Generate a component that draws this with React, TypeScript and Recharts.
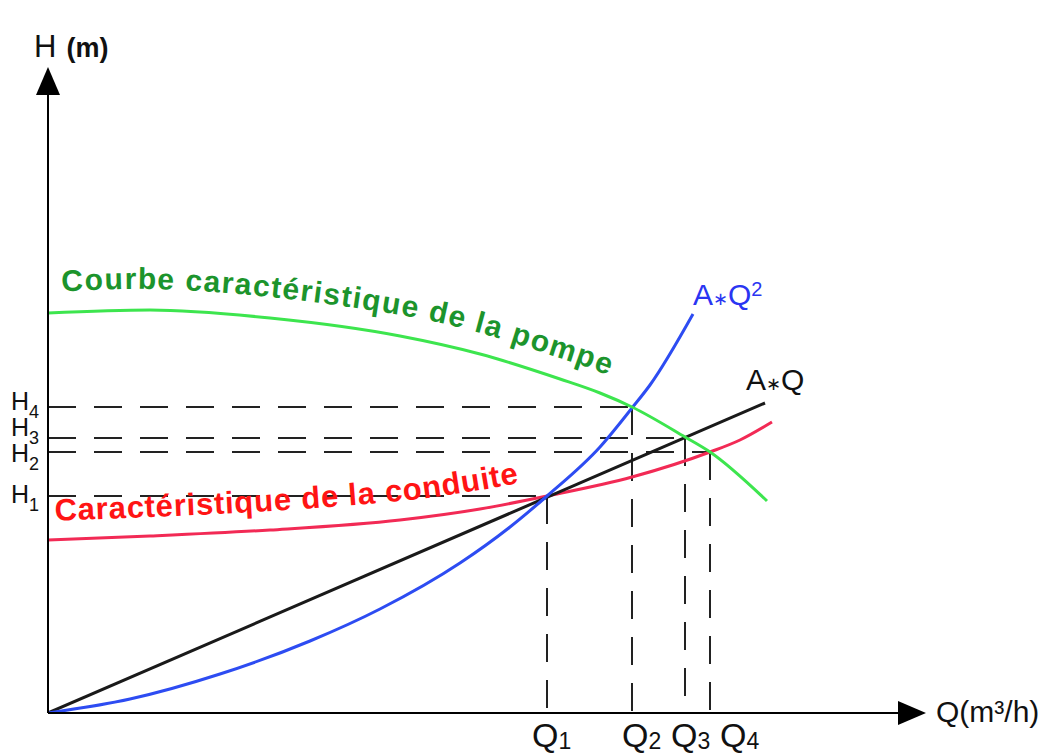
import React from 'react';
import { LineChart, Line, XAxis, YAxis, ReferenceLine, ReferenceDot } from 'recharts';

// Pump curve (Q, H)
const pumpQ = [0, 10.2, 22.2, 35.2, 43.2, 51.2, 55.2, 58.4, 63.7, 66.2, 71.9];
const pumpH = [40.0, 40.3, 39.5, 37.7, 35.9, 33.4, 32.0, 30.6, 27.6, 26.1, 21.2];

// Pipe characteristic
const pipeQ = [0, 10.2, 22.2, 35.2, 43.2, 49.9, 58.4, 66.2, 69.2, 72.4];
const pipeH = [17.3, 17.7, 18.3, 19.3, 20.4, 21.7, 23.6, 26.1, 27.3, 29.1];

// A*Q² curve
const quadQ = [0, 8.2, 17.2, 26.2, 33.2, 41.2, 46.2, 49.9, 55.2, 58.4, 60.2, 64.5];
const quadH = [0, 1.4, 3.9, 7.2, 10.4, 15.0, 18.6, 21.7, 26.6, 30.5, 32.8, 39.9];

// A*Q line
const linQ = [0, 71.7];
const linH = [0, 31.0];

// operating points
const crossQ = [49.9, 58.4, 63.7, 66.2];
const crossH = [21.7, 30.6, 27.5, 26.1];

const qTicks = [49.9, 58.4, 63.7, 66.2];
const qTickLabels = ['1', '2', '3', '4'];
const hTicks = [21.7, 26.1, 27.5, 30.6];
const hTickLabels = ['1', '2', '3', '4'];

const W = 1054;
const HGT = 753;
const LEFT = 48;
const TOP = 95;
const RIGHT = 898;
const BOTTOM = 713;
const Q_MAX = 85;
const H_MAX = 61.8;
const FONT = '"Liberation Sans", Arial, Helvetica, sans-serif';

const zip = (qs: number[], hs: number[]) => qs.map((q, i) => ({ q, h: hs[i] }));
const pump = zip(pumpQ, pumpH);
const pipe = zip(pipeQ, pipeH);
const quad = zip(quadQ, quadH);
const lin = zip(linQ, linH);

// label placement tweaks
const qLabelShift = [-2, 3, -1, 23];
const hLabelDy = [7, 10, -2, 3];

const px = (q: number) => LEFT + (q / Q_MAX) * (RIGHT - LEFT);
const py = (h: number) => BOTTOM - (h / H_MAX) * (BOTTOM - TOP);

function smoothPath(pts: number[][]) {
  let d = `M${pts[0][0]},${pts[0][1]}`;
  for (let i = 0; i < pts.length - 1; i++) {
    const p0 = pts[i - 1] || pts[i];
    const p1 = pts[i];
    const p2 = pts[i + 1];
    const p3 = pts[i + 2] || p2;
    const c1 = [p1[0] + (p2[0] - p0[0]) / 6, p1[1] + (p2[1] - p0[1]) / 6];
    const c2 = [p2[0] - (p3[0] - p1[0]) / 6, p2[1] - (p3[1] - p1[1]) / 6];
    d += ` C${c1[0]},${c1[1]} ${c2[0]},${c2[1]} ${p2[0]},${p2[1]}`;
  }
  return d;
}

const pumpTextPath = smoothPath(pumpQ.map((q, i) => [px(q), py(pumpH[i]) - 21]));
const pipeTextPath = smoothPath(pipeQ.map((q, i) => [px(q), py(pipeH[i]) - 19]));

const QTick = (props: any) => {
  const { x, y, payload } = props;
  const i = qTicks.indexOf(payload.value);
  return (
    <text x={x + qLabelShift[i] - 13} y={y + 34} fontSize={34} fill="#111" fontFamily={FONT}>
      Q<tspan fontSize={23} dy={2}>{qTickLabels[i]}</tspan>
    </text>
  );
};

const HTick = (props: any) => {
  const { x, y, payload } = props;
  const i = hTicks.indexOf(payload.value);
  return (
    <text x={x - 37} y={y + hLabelDy[i]} fontSize={25} fill="#111" fontFamily={FONT}>
      H<tspan fontSize={18} dy={8}>{hTickLabels[i]}</tspan>
    </text>
  );
};

const ArrowUp = (props: any) => {
  const { cx, cy } = props;
  return <polygon points={`${cx - 12},${cy} ${cx + 12},${cy} ${cx},${cy - 28}`} fill="#000" />;
};

const ArrowRight = (props: any) => {
  const { cx, cy } = props;
  return <polygon points={`${cx},${cy - 12} ${cx},${cy + 12} ${cx + 28},${cy}`} fill="#000" />;
};

const dash = '28 18';

export default function App() {
  return (
    <div style={{ position: 'absolute', left: 0, top: 0, width: W, height: HGT, background: '#fff' }}>
      <LineChart width={W} height={HGT} margin={{ top: TOP, right: W - RIGHT, bottom: 0, left: 0 }}>
        <XAxis
          dataKey="q"
          type="number"
          domain={[0, Q_MAX]}
          allowDataOverflow
          ticks={qTicks}
          interval={0}
          tick={<QTick />}
          tickLine={false}
          tickSize={0}
          tickMargin={0}
          height={HGT - BOTTOM}
          axisLine={{ stroke: '#000', strokeWidth: 2 }}
        />
        <YAxis
          type="number"
          domain={[0, H_MAX]}
          allowDataOverflow
          ticks={hTicks}
          interval={0}
          tick={<HTick />}
          tickLine={false}
          tickSize={0}
          tickMargin={0}
          width={LEFT}
          axisLine={{ stroke: '#000', strokeWidth: 2 }}
        />
        {crossQ.map((q, i) => (
          <ReferenceLine
            key={'h' + i}
            segment={[{ x: 0, y: crossH[i] }, { x: q, y: crossH[i] }]}
            stroke="#222"
            strokeWidth={2}
            strokeDasharray={dash}
            ifOverflow="visible"
          />
        ))}
        {crossQ.map((q, i) => (
          <ReferenceLine
            key={'v' + i}
            segment={[{ x: q, y: crossH[i] }, { x: q, y: 0 }]}
            stroke="#222"
            strokeWidth={2}
            strokeDasharray={dash}
            ifOverflow="visible"
          />
        ))}
        <Line data={pipe} dataKey="h" type="monotone" stroke="#f22a55" strokeWidth={3} dot={false} isAnimationActive={false} />
        <Line data={lin} dataKey="h" type="linear" stroke="#1a1a1a" strokeWidth={3} dot={false} isAnimationActive={false} />
        <Line data={quad} dataKey="h" type="monotone" stroke="#2d4cf2" strokeWidth={3} dot={false} isAnimationActive={false} />
        <Line data={pump} dataKey="h" type="monotone" stroke="#3de54e" strokeWidth={3} dot={false} isAnimationActive={false} />
        <ReferenceDot x={0} y={H_MAX} r={0} shape={<ArrowUp />} ifOverflow="visible" />
        <ReferenceDot x={Q_MAX} y={0} r={0} shape={<ArrowRight />} ifOverflow="visible" />
      </LineChart>
      <svg width={W} height={HGT} style={{ position: 'absolute', left: 0, top: 0, pointerEvents: 'none' }}>
        <defs>
          <path id="pumpTextPath" d={pumpTextPath} />
          <path id="pipeTextPath" d={pipeTextPath} />
        </defs>
        <text fontFamily={FONT} fontWeight="bold" fontSize={30} fill="#1c942c" letterSpacing={1.4}>
          <textPath href="#pumpTextPath" startOffset={14}>Courbe caractéristique de la pompe</textPath>
        </text>
        <text fontFamily={FONT} fontWeight="bold" fontSize={31} fill="#ff1414" letterSpacing={0.8}>
          <textPath href="#pipeTextPath" startOffset={7}>Caractéristique de la conduite</textPath>
        </text>
        <text x={693} y={305} fontFamily={FONT} fontSize={30} fill="#2a35f2">
          A<tspan fontSize={18}>∗</tspan>Q<tspan fontSize={20} dy={-9}>2</tspan>
        </text>
        <text x={746} y={390} fontFamily={FONT} fontSize={30} fill="#111">
          A<tspan fontSize={18}>∗</tspan>Q
        </text>
        <text x={34} y={57} fontFamily={FONT} fontSize={31} fill="#111">
          H<tspan fontSize={27} fontWeight="bold" dx={10}>(m)</tspan>
        </text>
        <text x={936} y={722} fontFamily={FONT} fontSize={30} fill="#111">
          Q(m³/h)
        </text>
      </svg>
    </div>
  );
}
